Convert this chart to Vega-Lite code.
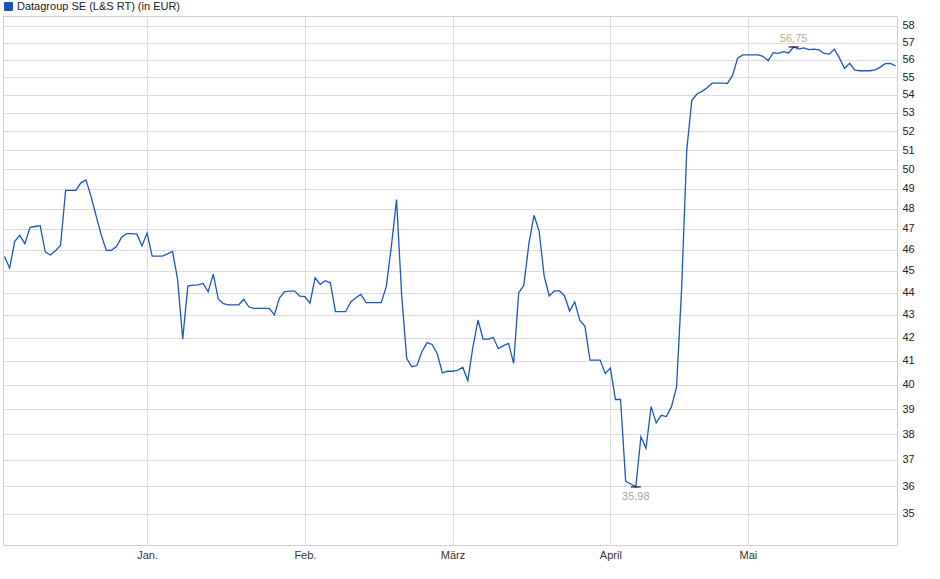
{
  "$schema": "https://vega.github.io/schema/vega-lite/v6.json",
  "width": 894,
  "height": 529,
  "autosize": "none",
  "padding": {"left": 3, "top": 16, "right": 43, "bottom": 34},
  "background": "white",
  "config": {
    "font": "Liberation Sans",
    "view": {"stroke": "#cfcfcf", "strokeWidth": 1}
  },
  "data": {
    "values": [
      {"d":"2023-12-04","v":45.68},{"d":"2023-12-05","v":45.13},{"d":"2023-12-06","v":46.40},{"d":"2023-12-07","v":46.69},
      {"d":"2023-12-08","v":46.29},{"d":"2023-12-09","v":47.08},{"d":"2023-12-10","v":47.12},{"d":"2023-12-11","v":47.16},
      {"d":"2023-12-12","v":45.90},{"d":"2023-12-13","v":45.75},{"d":"2023-12-14","v":45.95},{"d":"2023-12-15","v":46.20},
      {"d":"2023-12-16","v":48.92},{"d":"2023-12-17","v":48.92},{"d":"2023-12-18","v":48.92},{"d":"2023-12-19","v":49.30},
      {"d":"2023-12-20","v":49.45},{"d":"2023-12-21","v":48.60},{"d":"2023-12-22","v":47.63},{"d":"2023-12-23","v":46.70},
      {"d":"2023-12-24","v":45.97},{"d":"2023-12-25","v":45.97},{"d":"2023-12-26","v":46.15},{"d":"2023-12-27","v":46.60},
      {"d":"2023-12-28","v":46.77},{"d":"2023-12-29","v":46.77},{"d":"2023-12-30","v":46.75},{"d":"2023-12-31","v":46.19},
      {"d":"2024-01-01","v":46.80},{"d":"2024-01-02","v":45.70},{"d":"2024-01-03","v":45.70},{"d":"2024-01-04","v":45.70},
      {"d":"2024-01-05","v":45.80},{"d":"2024-01-06","v":45.92},{"d":"2024-01-07","v":44.60},{"d":"2024-01-08","v":41.93},
      {"d":"2024-01-09","v":44.30},{"d":"2024-01-10","v":44.34},{"d":"2024-01-11","v":44.36},{"d":"2024-01-12","v":44.42},
      {"d":"2024-01-13","v":44.04},{"d":"2024-01-14","v":44.85},{"d":"2024-01-15","v":43.70},{"d":"2024-01-16","v":43.50},
      {"d":"2024-01-17","v":43.45},{"d":"2024-01-18","v":43.45},{"d":"2024-01-19","v":43.45},{"d":"2024-01-20","v":43.70},
      {"d":"2024-01-21","v":43.35},{"d":"2024-01-22","v":43.29},{"d":"2024-01-23","v":43.29},{"d":"2024-01-24","v":43.29},
      {"d":"2024-01-25","v":43.29},{"d":"2024-01-26","v":43.00},{"d":"2024-01-27","v":43.75},{"d":"2024-01-28","v":44.05},
      {"d":"2024-01-29","v":44.07},{"d":"2024-01-30","v":44.07},{"d":"2024-01-31","v":43.84},
      {"d":"2024-02-01","v":43.82},{"d":"2024-02-02","v":43.52},{"d":"2024-02-03","v":44.68},{"d":"2024-02-04","v":44.38},
      {"d":"2024-02-05","v":44.55},{"d":"2024-02-06","v":44.45},{"d":"2024-02-07","v":43.14},{"d":"2024-02-08","v":43.14},
      {"d":"2024-02-09","v":43.14},{"d":"2024-02-10","v":43.58},{"d":"2024-02-11","v":43.77},{"d":"2024-02-12","v":43.92},
      {"d":"2024-02-13","v":43.55},{"d":"2024-02-14","v":43.55},{"d":"2024-02-15","v":43.55},{"d":"2024-02-16","v":43.55},
      {"d":"2024-02-17","v":44.30},{"d":"2024-02-18","v":46.20},{"d":"2024-02-19","v":48.45},{"d":"2024-02-20","v":43.90},
      {"d":"2024-02-21","v":41.10},{"d":"2024-02-22","v":40.75},{"d":"2024-02-23","v":40.80},{"d":"2024-02-24","v":41.40},
      {"d":"2024-02-25","v":41.78},{"d":"2024-02-26","v":41.70},{"d":"2024-02-27","v":41.30},{"d":"2024-02-28","v":40.49},
      {"d":"2024-02-29","v":40.56},
      {"d":"2024-03-01","v":40.56},{"d":"2024-03-02","v":40.60},{"d":"2024-03-03","v":40.73},{"d":"2024-03-04","v":40.17},
      {"d":"2024-03-05","v":41.60},{"d":"2024-03-06","v":42.77},{"d":"2024-03-07","v":41.93},{"d":"2024-03-08","v":41.93},
      {"d":"2024-03-09","v":42.00},{"d":"2024-03-10","v":41.52},{"d":"2024-03-11","v":41.65},{"d":"2024-03-12","v":41.75},
      {"d":"2024-03-13","v":40.89},{"d":"2024-03-14","v":44.00},{"d":"2024-03-15","v":44.33},{"d":"2024-03-16","v":46.30},
      {"d":"2024-03-17","v":47.67},{"d":"2024-03-18","v":46.90},{"d":"2024-03-19","v":44.76},{"d":"2024-03-20","v":43.85},
      {"d":"2024-03-21","v":44.08},{"d":"2024-03-22","v":44.08},{"d":"2024-03-23","v":43.85},{"d":"2024-03-24","v":43.17},
      {"d":"2024-03-25","v":43.58},{"d":"2024-03-26","v":42.75},{"d":"2024-03-27","v":42.50},{"d":"2024-03-28","v":41.03},
      {"d":"2024-03-29","v":41.03},{"d":"2024-03-30","v":41.03},{"d":"2024-03-31","v":40.46},
      {"d":"2024-04-01","v":40.70},{"d":"2024-04-02","v":39.39},{"d":"2024-04-03","v":39.39},{"d":"2024-04-04","v":36.20},
      {"d":"2024-04-05","v":36.09},{"d":"2024-04-07","v":35.98},{"d":"2024-04-08","v":37.90},{"d":"2024-04-09","v":37.45},
      {"d":"2024-04-10","v":39.10},{"d":"2024-04-11","v":38.45},{"d":"2024-04-12","v":38.75},{"d":"2024-04-14","v":38.70},
      {"d":"2024-04-15","v":39.10},{"d":"2024-04-16","v":39.90},{"d":"2024-04-17","v":44.20},{"d":"2024-04-18","v":51.00},
      {"d":"2024-04-19","v":53.70},{"d":"2024-04-21","v":54.05},{"d":"2024-04-22","v":54.20},{"d":"2024-04-23","v":54.40},
      {"d":"2024-04-24","v":54.66},{"d":"2024-04-25","v":54.66},{"d":"2024-04-26","v":54.66},{"d":"2024-04-27","v":54.65},
      {"d":"2024-04-28","v":55.10},{"d":"2024-04-29","v":56.10},{"d":"2024-04-30","v":56.29},
      {"d":"2024-05-01","v":56.29},{"d":"2024-05-02","v":56.29},{"d":"2024-05-03","v":56.29},{"d":"2024-05-04","v":56.20},
      {"d":"2024-05-05","v":55.95},{"d":"2024-05-06","v":56.42},{"d":"2024-05-07","v":56.38},{"d":"2024-05-08","v":56.48},
      {"d":"2024-05-09","v":56.40},{"d":"2024-05-10","v":56.75},{"d":"2024-05-11","v":56.62},{"d":"2024-05-12","v":56.70},
      {"d":"2024-05-13","v":56.60},{"d":"2024-05-14","v":56.62},{"d":"2024-05-15","v":56.58},{"d":"2024-05-16","v":56.37},
      {"d":"2024-05-17","v":56.33},{"d":"2024-05-18","v":56.62},{"d":"2024-05-19","v":56.10},{"d":"2024-05-20","v":55.50},
      {"d":"2024-05-21","v":55.80},{"d":"2024-05-22","v":55.40},{"d":"2024-05-23","v":55.37},{"d":"2024-05-24","v":55.37},
      {"d":"2024-05-25","v":55.37},{"d":"2024-05-26","v":55.42},{"d":"2024-05-27","v":55.58},{"d":"2024-05-28","v":55.78},
      {"d":"2024-05-29","v":55.79},{"d":"2024-05-30","v":55.65}
    ]
  },
  "encoding": {
    "x": {
      "field": "d",
      "type": "ordinal",
      "sort": null,
      "scale": {"type": "point", "padding": 0.3},
      "axis": {
        "title": null,
        "values": ["2024-01-01","2024-02-01","2024-03-01","2024-04-01","2024-05-01"],
        "labelExpr": "datum.value == '2024-01-01' ? 'Jan.' : datum.value == '2024-02-01' ? 'Feb.' : datum.value == '2024-03-01' ? 'März' : datum.value == '2024-04-01' ? 'April' : 'Mai'",
        "labelAngle": 0,
        "labelFontSize": 11,
        "labelColor": "#333333",
        "labelPadding": 4,
        "ticks": false,
        "domain": false,
        "grid": true,
        "gridColor": "#dcdcdc",
        "gridWidth": 1
      }
    },
    "y": {
      "field": "v",
      "type": "quantitative",
      "scale": {"type": "log", "domain": [33.88, 58.6], "nice": false, "zero": false},
      "axis": {
        "title": null,
        "orient": "right",
        "values": [35,36,37,38,39,40,41,42,43,44,45,46,47,48,49,50,51,52,53,54,55,56,57,58],
        "format": "d",
        "labelFontSize": 11,
        "labelColor": "#222222",
        "labelPadding": 5,
        "ticks": false,
        "domain": false,
        "grid": true,
        "gridColor": "#dcdcdc",
        "gridWidth": 1
      }
    }
  },
  "layer": [
    {
      "mark": {"type": "line", "strokeWidth": 1.3, "interpolate": "linear"},
      "encoding": {
        "color": {
          "datum": "Datagroup SE (L&S RT) (in EUR)",
          "type": "nominal",
          "scale": {"range": ["#1c56c4"]},
          "legend": {
            "title": null,
            "orient": "none",
            "legendX": 0,
            "legendY": -15,
            "symbolType": "square",
            "symbolSize": 64,
            "labelFontSize": 11,
            "labelColor": "#222222",
            "labelOffset": 3,
            "labelLimit": 0,
            "encode": {
              "symbols": {
                "update": {
                  "fill": {"value": "#1f4fb5"},
                  "stroke": {"value": "#0d2a70"},
                  "strokeWidth": {"value": 1},
                  "opacity": {"value": 1}
                }
              }
            }
          }
        }
      }
    },
    {
      "transform": [
        {"joinaggregate": [{"op": "max", "field": "v", "as": "mx"}]},
        {"filter": "datum.v == datum.mx"}
      ],
      "mark": {"type": "tick", "orient": "horizontal", "color": "#000000", "size": 10, "thickness": 1.5}
    },
    {
      "transform": [
        {"joinaggregate": [{"op": "max", "field": "v", "as": "mx"}]},
        {"filter": "datum.v == datum.mx"},
        {"calculate": "replace(format(datum.v, '.2f'), '.', ',')", "as": "lbl"}
      ],
      "mark": {"type": "text", "baseline": "bottom", "align": "center", "dy": -3, "fontSize": 11, "color": "#bcaa98"},
      "encoding": {"text": {"field": "lbl"}}
    },
    {
      "transform": [
        {"joinaggregate": [{"op": "min", "field": "v", "as": "mn"}]},
        {"filter": "datum.v == datum.mn"}
      ],
      "mark": {"type": "tick", "orient": "horizontal", "color": "#000000", "size": 10, "thickness": 1.5}
    },
    {
      "transform": [
        {"joinaggregate": [{"op": "min", "field": "v", "as": "mn"}]},
        {"filter": "datum.v == datum.mn"},
        {"calculate": "replace(format(datum.v, '.2f'), '.', ',')", "as": "lbl"}
      ],
      "mark": {"type": "text", "baseline": "top", "align": "center", "dy": 4, "fontSize": 11, "color": "#a4a7b4"},
      "encoding": {"text": {"field": "lbl"}}
    }
  ]
}
